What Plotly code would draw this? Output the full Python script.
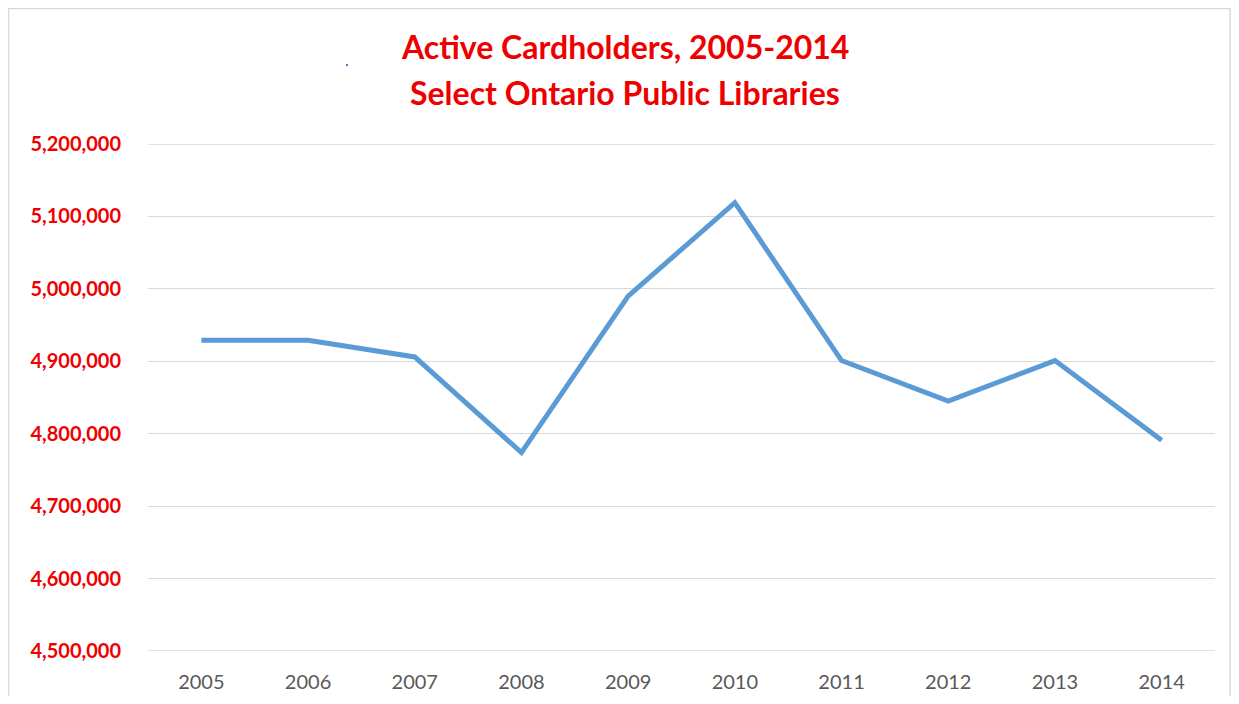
import plotly.graph_objects as go

years = ["2005", "2006", "2007", "2008", "2009", "2010", "2011", "2012", "2013", "2014"]
cardholders = [4929000, 4929000, 4906000, 4774000, 4990000, 5119000, 4901000, 4845000, 4901000, 4791000]
y_ticks = [4500000, 4600000, 4700000, 4800000, 4900000, 5000000, 5100000, 5200000]
title_lines = ["Active Cardholders, 2005-2014", "Select Ontario Public Libraries"]

# page body has an 8px default margin; work in screen pixels and convert
OFF = 8
SW, SH = 1239, 704
W, H = SW - 2 * OFF, SH - 2 * OFF
plot_left, plot_right, plot_top, plot_bottom = 148, 1215, 144, 651  # screen px
L = plot_left - OFF
R = W - (plot_right - OFF)
T = plot_top - OFF
B = H - (plot_bottom - OFF)
pw, ph = W - L - R, H - T - B

def px_x(x):
    return (x - OFF - L) / pw

def px_y(y):
    return (H - B - (y - OFF)) / ph

fig = go.Figure()
fig.add_trace(go.Scatter(
    x=years, y=cardholders, mode="lines",
    line=dict(color="#5b9bd5", width=5),
    hoverinfo="x+y",
))

grid_color = "#d9d9d9"
edge_lines = [
    dict(type="line", xref="paper", yref="y", x0=0, x1=1, y0=v, y1=v,
         line=dict(color=grid_color, width=1.3), layer="below")
    for v in (min(y_ticks), max(y_ticks))
]

fig.update_layout(
    width=W, height=H,
    margin=dict(l=L, r=R, t=T, b=B),
    paper_bgcolor="white", plot_bgcolor="white",
    showlegend=False,
    font=dict(family="Lato", color="#595959"),
    xaxis=dict(
        type="category", range=[-0.5, len(years) - 0.5],
        showgrid=False, zeroline=False, showline=False, automargin=False,
        tickfont=dict(size=20, color="#595959", family="Lato"),
        ticklabelstandoff=17,
    ),
    yaxis=dict(
        range=[min(y_ticks), max(y_ticks)], tickvals=y_ticks,
        ticktext=[f"{v:,}" for v in y_ticks],
        showgrid=True, gridcolor=grid_color, gridwidth=1.3,
        zeroline=False, showline=False, automargin=False,
        tickfont=dict(size=20, color="#ee0000", family="Lato", weight="bold"),
        ticklabelstandoff=26,
    ),
    shapes=edge_lines + [
        dict(type="rect", xref="paper", yref="paper",
             x0=px_x(OFF + 0.5), x1=px_x(SW - OFF - 1), y0=px_y(SH + 20), y1=px_y(OFF + 0.5),
             line=dict(color=grid_color, width=1.5), fillcolor="rgba(0,0,0,0)", layer="below"),
        dict(type="circle", xref="paper", yref="paper",
             x0=px_x(346), x1=px_x(348), y0=px_y(66), y1=px_y(64),
             line=dict(width=0), fillcolor="#3030c0"),
    ],
    annotations=[
        dict(text=title_lines[0], xref="paper", yref="paper", x=px_x(625), y=px_y(47),
             showarrow=False, xanchor="center", yanchor="middle",
             font=dict(size=32, color="#ee0000", family="Lato", weight="bold")),
        dict(text=title_lines[1], xref="paper", yref="paper", x=px_x(625), y=px_y(93),
             showarrow=False, xanchor="center", yanchor="middle",
             font=dict(size=32, color="#ee0000", family="Lato", weight="bold")),
    ],
)

fig.write_html("out.html")
